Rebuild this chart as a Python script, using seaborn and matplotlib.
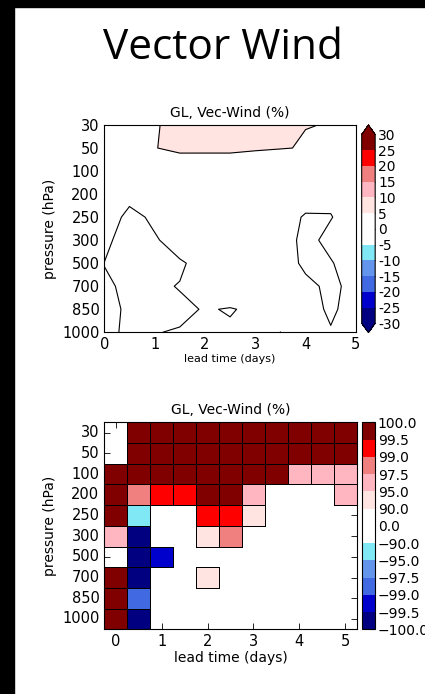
import numpy as np
import pandas as pd
import matplotlib
matplotlib.use("Agg")
import matplotlib.pyplot as plt
from matplotlib.colors import ListedColormap, BoundaryNorm
from matplotlib.patches import Rectangle
import seaborn as sns

# pressure levels (rows) and lead times (columns)
pressure = ["30", "50", "100", "200", "250", "300", "500", "700", "850", "1000"]
lead_days = [0, 0.5, 1, 1.5, 2, 2.5, 3, 3.5, 4, 4.5, 5]

# top panel: vector wind change (%)
vec_wind = np.array([
    [2.0, 3.0, 4.72, 6.0, 6.5, 6.5, 6.0, 5.8, 5.034, 4.963, 4.0],
    [2.0, 3.0, 4.90, 5.705, 5.56, 5.56, 5.34, 5.125, 4.865, 4.5, 4.0],
    [2.5, 2.5, 3.0, 2.5, 3.0, 3.0, 2.5, 2.0, 2.5, 3.0, 3.0],
    [3.0, 1.10, 2.0, 2.5, 3.0, 3.0, 2.5, 2.5, 2.44, 1.7, 2.5],
    [2.0, -0.94, 0.576, 2.0, 2.5, 2.5, 2.5, 2.28, -0.5, -0.3, 3.45],
    [1.0, -2.03, -0.30, 1.2, 2.0, 2.5, 2.5, 3.56, -2.0, 1.843, 3.0],
    [-0.05, -2.0, -1.0, -0.28, 0.80, 2.0, 2.0, 1.03, -0.4, -0.46, 3.37],
    [0.3, -0.38, -0.28, 0.079, 0.8, 1.0, 1.5, 2.0, 0.451, -0.384, 0.53],
    [1.5, -0.77, -0.5, -0.28, 0.088, -0.075, 0.213, 1.5, 1.29, -0.5, 1.286],
    [1.5, -1.09, -0.04, 0.084, 0.5, 0.152, 1.5, -0.02, 1.5, 0.214, 2.0],
])

# bottom panel: significance (%), nan = not significant
n = np.nan
signif = np.array([
    [n, 99.8, 99.8, 99.8, 99.8, 99.8, 99.8, 99.8, 99.8, 99.8, 99.8],
    [n, 99.8, 99.8, 99.8, 99.8, 99.8, 99.8, 99.8, 99.8, 99.8, 99.8],
    [99.8, 99.8, 99.8, 99.8, 99.8, 99.8, 99.8, 99.8, 96, 96, 96],
    [99.8, 98, 99.2, 99.2, 99.8, 99.8, 96, n, n, n, 96],
    [99.8, -92, n, n, 99.2, 99.2, 92, n, n, n, n],
    [96, -99.8, n, n, 92, 98, n, n, n, n, n],
    [n, -99.8, -99.2, n, n, n, n, n, n, n, n],
    [99.8, -99.8, n, n, 92, n, n, n, n, n, n],
    [99.8, -98, n, n, n, n, n, n, n, n, n],
    [99.8, -99.8, n, n, n, n, n, n, n, n, n],
])

top_levels = [-30, -25, -20, -15, -10, -5, 0, 5, 10, 15, 20, 25, 30]
sig_bounds = [-100, -99.5, -99, -97.5, -95, -90, 0, 90, 95, 97.5, 99, 99.5, 100]
sig_labels = ["\u2212100.0", "\u221299.5", "\u221299.0", "\u221297.5", "\u221295.0", "\u221290.0",
              "0.0", "90.0", "95.0", "97.5", "99.0", "99.5", "100.0"]
colors = ["#000080", "#0000cd", "#4169e1", "#6495ed", "#80e8f5", "#ffffff",
          "#ffffff", "#ffe4e1", "#ffb6c1", "#f08080", "#ff0000", "#800000"]

sns.set_style("ticks", {"xtick.direction": "in", "ytick.direction": "in",
                        "axes.edgecolor": "black", "text.color": "black",
                        "axes.labelcolor": "black", "xtick.color": "black",
                        "ytick.color": "black"})
plt.rcParams["font.family"] = ["DejaVu Sans"]
plt.rcParams["xtick.top"] = True
plt.rcParams["ytick.right"] = True

cmap = ListedColormap(colors)
cmap.set_over("#800000")
cmap.set_under("#000080")

fig = plt.figure(figsize=(4.25, 6.94), dpi=100)
fig.patches.append(Rectangle((0, 0), 14 / 425, 1, color="black", transform=fig.transFigure, zorder=5))
fig.patches.append(Rectangle((0, 1 - 7 / 694), 1, 7 / 694, color="black", transform=fig.transFigure, zorder=5))
fig.text(0.5235, 0.931, "Vector Wind", ha="center", va="center", fontsize=30.5,
         family="Open Sans", color="black")

# ---- top: contour plot
ax1 = fig.add_axes([0.2454, 0.5212, 0.592, 0.2987])
cax1 = fig.add_axes([0.851, 0.5206, 0.0318, 0.2993])
rows = np.arange(len(pressure))
norm1 = BoundaryNorm(top_levels, cmap.N)
cf = ax1.contourf(lead_days, rows, vec_wind, levels=top_levels, cmap=cmap, norm=norm1, extend="both")
ax1.contour(lead_days, rows, vec_wind, levels=top_levels, colors="k", linewidths=0.8)
ax1.set_ylim(9, 0)
ax1.set_xlim(0, 5)
ax1.set_yticks(rows)
ax1.set_yticklabels(pressure)
ax1.set_xticks([0, 1, 2, 3, 4, 5])
ax1.set_xticklabels(["0", "1", "2", "3", "4", "5"])
ax1.tick_params(labelsize=10.5, length=4, width=0.6)
ax1.set_title("GL, Vec-Wind (%)", fontsize=10)
ax1.set_ylabel("pressure (hPa)", fontsize=10)
ax1.set_xlabel("lead time (days)", fontsize=8, labelpad=1)
cb1 = fig.colorbar(cf, cax=cax1, ticks=top_levels)
cb1.set_ticklabels([str(v) for v in top_levels])
cb1.ax.tick_params(labelsize=10, direction="in", length=3, pad=2)

# ---- bottom: significance boxes
ax2 = fig.add_axes([0.2454, 0.0932, 0.594, 0.2983])
cax2 = fig.add_axes([0.8518, 0.0932, 0.0306, 0.2983])
df = pd.DataFrame(signif, index=pressure, columns=lead_days)
norm2 = BoundaryNorm(sig_bounds, cmap.N)
sns.heatmap(df, mask=df.isna(), cmap=cmap, norm=norm2, linewidths=0.5, linecolor="k",
            ax=ax2, cbar_ax=cax2, cbar_kws={"ticks": sig_bounds, "spacing": "uniform"},
            xticklabels=False, yticklabels=pressure)
# only outline the significant boxes
mesh = ax2.collections[0]
edge = [(0, 0, 0, 0) if np.isnan(v) else (0, 0, 0, 1) for v in signif.ravel()]
mesh.set_edgecolor(edge)
for s in ax2.spines.values():
    s.set_visible(True)
    s.set_color("black")
ax2.set_xticks(np.arange(0, 11, 2) + 0.5)
ax2.set_xticklabels(["0", "1", "2", "3", "4", "5"])
ax2.set_yticklabels(pressure, rotation=0)
ax2.tick_params(labelsize=10.5, direction="in", length=4, width=0.6,
                top=True, right=True, bottom=True, left=True)
ax2.set_title("GL, Vec-Wind (%)", fontsize=10)
ax2.set_ylabel("pressure (hPa)", fontsize=10)
ax2.set_xlabel("lead time (days)", fontsize=10, labelpad=1)
cb2 = mesh.colorbar
cb2.outline.set_linewidth(0.8)
cb2.set_ticklabels(sig_labels)
cb2.ax.tick_params(labelsize=10, direction="in", length=3, pad=2)

fig.savefig("out.png", dpi=100)
